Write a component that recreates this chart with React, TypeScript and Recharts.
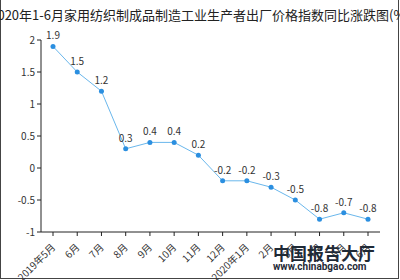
import React from "react";
import { LineChart, Line, XAxis, YAxis, LabelList } from "recharts";

const months = [
  "2019年5月", "6月", "7月", "8月", "9月", "10月", "11月",
  "12月", "2020年1月", "2月", "3月", "4月", "5月", "6月",
];
const changes = [1.9, 1.5, 1.2, 0.3, 0.4, 0.4, 0.2, -0.2, -0.2, -0.3, -0.5, -0.8, -0.7, -0.8];
const yTicks = [-1, -0.5, 0, 0.5, 1, 1.5, 2];

const data = months.map((m, i) => ({ month: m, value: changes[i] }));

const font = '"Noto Sans CJK SC", "Noto Sans", sans-serif';

function MonthTick(props: any) {
  const { x, y, payload } = props;
  return (
    <text
      x={x + 3}
      y={y + 10}
      transform={`rotate(-45, ${x + 3}, ${y + 10})`}
      textAnchor="end"
      fontSize={10}
      fill="#333"
      fontFamily={font}
    >
      {payload.value}
    </text>
  );
}

export default function App() {
  return (
    <div
      style={{
        position: "absolute",
        left: 0,
        top: 0,
        width: 400,
        height: 280,
        background: "#fff",
        overflow: "hidden",
        fontFamily: font,
      }}
    >
      <div
        style={{
          position: "absolute",
          left: 0,
          top: 0,
          width: 397,
          height: 278,
          borderLeft: "1px solid #444",
          borderRight: "1px solid #444",
          borderBottom: "1px solid #444",
        }}
      />
      <div
        style={{
          position: "absolute",
          left: -60,
          width: 520,
          top: 5,
          textAlign: "center",
          fontSize: 13,
          color: "#222",
          whiteSpace: "nowrap",
        }}
      >
        2020年1-6月家用纺织制成品制造工业生产者出厂价格指数同比涨跌图(%)
      </div>
      <LineChart
        width={400}
        height={280}
        data={data}
        margin={{ top: 40, right: 20, left: 0, bottom: 0 }}
        style={{ position: "absolute", left: 0, top: 0 }}
      >
        <XAxis
          dataKey="month"
          interval={0}
          height={48}
          padding={{ left: 12, right: 12 }}
          tick={<MonthTick />}
          tickSize={4}
          axisLine={{ stroke: "#222" }}
          tickLine={{ stroke: "#222" }}
        />
        <YAxis
          width={41}
          domain={[-1, 2]}
          ticks={yTicks}
          interval={0}
          tickSize={4}
          axisLine={{ stroke: "#222" }}
          tickLine={{ stroke: "#222" }}
          tick={{ fontSize: 10, fill: "#333", fontFamily: font }}
        />
        <Line
          type="linear"
          dataKey="value"
          stroke="#6ab7ec"
          strokeWidth={1}
          dot={{ r: 2.5, fill: "#2b8fe0", stroke: "#2b8fe0", strokeWidth: 0 }}
          isAnimationActive={false}
        >
          <LabelList
            dataKey="value"
            position="top"
            offset={7}
            fontSize={10}
            fill="#333"
            fontFamily={font}
          />
        </Line>
      </LineChart>
      <div
        style={{
          position: "absolute",
          left: 273,
          top: 243,
          fontSize: 17,
          fontWeight: 700,
          color: "#1f2a36",
          whiteSpace: "nowrap",
          lineHeight: "19px",
        }}
      >
        中国报告大厅
      </div>
      <div
        style={{
          position: "absolute",
          left: 273,
          top: 261,
          fontSize: 10,
          fontWeight: 700,
          color: "#1f2a36",
          fontFamily: "Roboto, sans-serif",
          whiteSpace: "nowrap",
          lineHeight: "12px",
        }}
      >
        www.chinabgao.com
      </div>
    </div>
  );
}
